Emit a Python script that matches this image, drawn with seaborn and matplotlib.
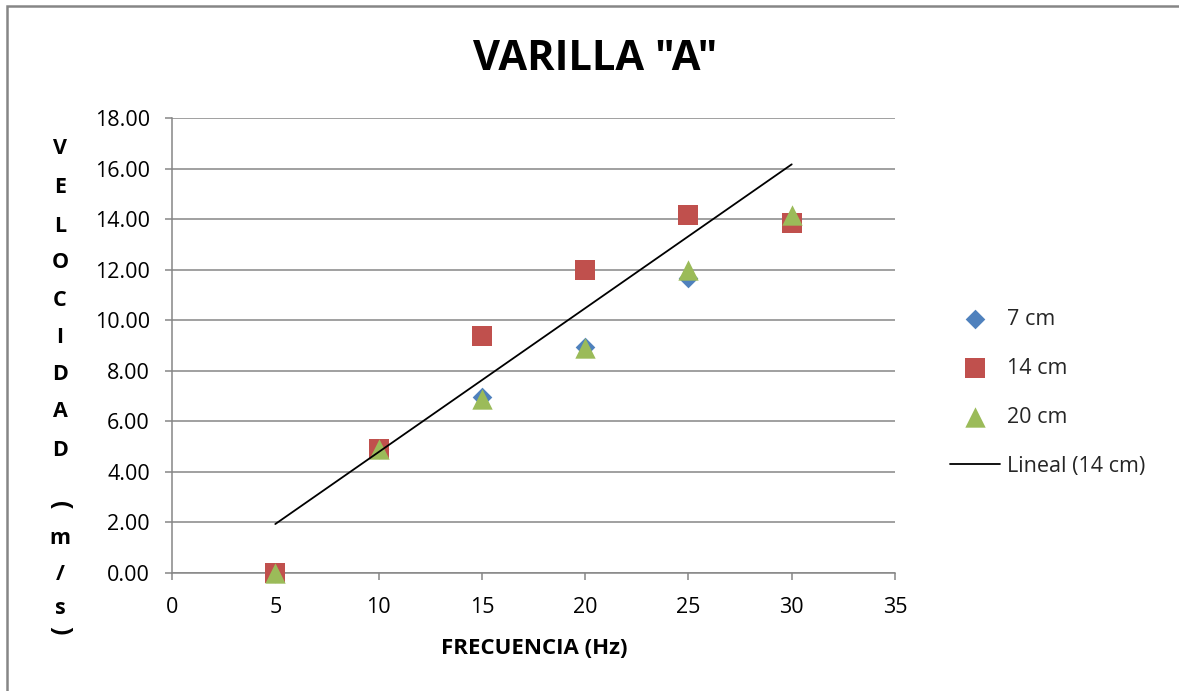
import numpy as np
import pandas as pd
import matplotlib
matplotlib.use("Agg")
import matplotlib.pyplot as plt
import seaborn as sns
from matplotlib.patches import Rectangle

# ---- data ----
frecuencia = [5, 10, 15, 20, 25, 30]
vel_7cm = [0.0, 4.90, 6.95, 8.95, 11.68, 14.00]
vel_14cm = [0.0, 4.92, 9.38, 12.00, 14.15, 13.86]
vel_20cm = [0.0, 4.90, 6.90, 8.90, 12.00, 14.15]
series_labels = ["7 cm", "14 cm", "20 cm"]
trend_label = "Lineal (14 cm)"
title = 'VARILLA "A"'
x_label = "FRECUENCIA (Hz)"
y_label = "VELOCIDAD (m/s)"
x_ticks = [0, 5, 10, 15, 20, 25, 30, 35]
y_ticks = [0, 2, 4, 6, 8, 10, 12, 14, 16, 18]

colors = ["#4F81BD", "#C0504D", "#9BBB59"]
markers = ["D", "s", "^"]
sizes = [100, 210, 215]

sns.set_theme(style="white")
plt.rcParams["font.family"] = ["Open Sans", "DejaVu Sans"]

W, H = 1179, 691
fig = plt.figure(figsize=(W / 100, H / 100), dpi=100)
ax = fig.add_axes([172 / W, 1 - 573 / H, (895 - 172) / W, (573 - 118) / H])

df = pd.DataFrame({"x": frecuencia, "7 cm": vel_7cm, "14 cm": vel_14cm, "20 cm": vel_20cm})
for lab, c, m, s in zip(series_labels, colors, markers, sizes):
    sns.scatterplot(data=df, x="x", y=lab, color=c, marker=m, s=s, linewidth=0,
                    label=lab, ax=ax, zorder=3)
for coll in ax.collections:
    coll.set_clip_on(False)

# linear trend line of the 14 cm series
coef = np.polyfit(frecuencia, vel_14cm, 1)
xt = np.array([min(frecuencia), max(frecuencia)])
trend = pd.DataFrame({"x": xt, "y": np.polyval(coef, xt)})
sns.lineplot(data=trend, x="x", y="y", color="black", linewidth=1.3,
             label=trend_label, ax=ax, zorder=4)

ax.set_xlim(0, 35)
ax.set_ylim(0, 18)
ax.set_xticks(x_ticks)
ax.set_yticks(y_ticks)
ax.set_yticklabels([f"{v:.2f}" for v in y_ticks])
ax.set_xlabel("")
ax.set_ylabel("")
ax.grid(axis="y", color="#868686", linewidth=1.1)
ax.grid(axis="x", visible=False)
for side in ["top", "right"]:
    ax.spines[side].set_visible(False)
for side in ["left", "bottom"]:
    ax.spines[side].set_color("#868686")
    ax.spines[side].set_linewidth(1.1)
ax.tick_params(axis="both", which="both", direction="out", length=5, width=1.1,
               color="#868686", labelsize=15.5, labelcolor="black")
ax.tick_params(axis="y", pad=11, left=True)
ax.tick_params(axis="x", pad=12, bottom=True)

# title and axis labels
fig.text(595 / W, 1 - 60 / H, title, ha="center", va="center", fontsize=30,
         fontweight="bold", color="black")
fig.text(534 / W, 1 - 648 / H, x_label, ha="center", va="center", fontsize=16,
         fontweight="bold", color="black")

# stacked vertical y label
ys = [148, 187, 226, 262, 300, 337, 375, 412, 451, None, 505, 538, 575, 609, 630]
for ch, yy in zip(y_label, ys):
    if ch == " " or yy is None:
        continue
    rot = -90 if ch in "()" else 0
    fs = 18 if ch in "()" else 15.5
    fig.text(60 / W, 1 - yy / H, ch, ha="center", va="center", fontsize=fs,
             fontweight="bold", rotation=rot, color="black")

# legend
handles, labels = ax.get_legend_handles_labels()
ax.legend(handles, labels, loc="center left", bbox_to_anchor=(950 / W, 1 - 393 / H),
          bbox_transform=fig.transFigure, frameon=False, fontsize=15.5,
          borderpad=0, borderaxespad=0, handlelength=2.3, handletextpad=0.35,
          labelspacing=1.3, markerscale=1.0)

# outer frame
fig.patches.append(Rectangle((7 / W, -0.1), 1.2, 1 - 5.5 / H + 0.1, transform=fig.transFigure,
                             fill=False, edgecolor="#868686", linewidth=1.8, zorder=0))

fig.savefig("out.png", dpi=100)
